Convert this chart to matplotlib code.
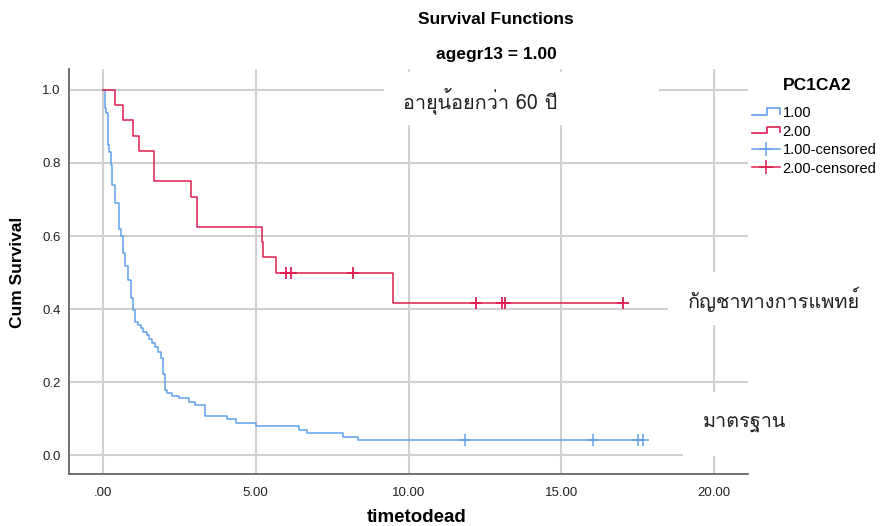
import numpy as np
import matplotlib
matplotlib.use('Agg')
import matplotlib.pyplot as plt
from matplotlib.lines import Line2D
from matplotlib.patches import Rectangle
from matplotlib.legend_handler import HandlerBase
from matplotlib import font_manager
from matplotlib.ft2font import FT2Font

# Kaplan-Meier steps
blue_time = [0.00, 0.06, 0.10, 0.15, 0.20, 0.25, 0.31, 0.38, 0.54, 0.59, 0.65, 0.71,
             0.82, 0.91, 0.97, 1.05, 1.15, 1.23, 1.32, 1.43, 1.52, 1.59, 1.70, 1.81,
             1.89, 1.95, 2.03, 2.10, 2.25, 2.50, 2.82, 3.01, 3.34, 4.06, 4.35, 5.01,
             6.43, 6.67, 7.85, 8.36]
blue_surv = [1.000, 0.951, 0.937, 0.850, 0.830, 0.795, 0.740, 0.690, 0.620, 0.600, 0.553, 0.518,
             0.479, 0.430, 0.397, 0.364, 0.356, 0.348, 0.337, 0.329, 0.318, 0.307, 0.296, 0.282,
             0.266, 0.222, 0.178, 0.170, 0.162, 0.156, 0.145, 0.137, 0.107, 0.099, 0.088, 0.079,
             0.068, 0.060, 0.049, 0.041]
blue_cens = [11.85, 16.03, 17.52, 17.69]

red_time = [0.00, 0.39, 0.65, 0.98, 1.18, 1.67, 2.88, 3.08, 5.20, 5.25, 5.66, 9.49]
red_surv = [1.000, 0.958, 0.917, 0.875, 0.833, 0.750, 0.708, 0.625, 0.583, 0.542, 0.500, 0.417]
red_cens = [5.99, 6.15, 8.18, 12.20, 13.06, 13.16, 17.02]

group_labels = ['1.00', '2.00', '1.00-censored', '2.00-censored']
x_ticks = [0, 5, 10, 15, 20]
x_ticklabels = ['.00', '5.00', '10.00', '15.00', '20.00']
y_ticks = [0.0, 0.2, 0.4, 0.6, 0.8, 1.0]
y_ticklabels = ['0.0', '0.2', '0.4', '0.6', '0.8', '1.0']

BLUE = '#62a0ec'
RED = '#dc1e50'

plt.rcParams['font.family'] = ['Liberation Sans', 'DejaVu Sans']


def thai_font():
    for f in font_manager.fontManager.ttflist:
        try:
            if 0x0E2D in FT2Font(f.fname).get_charmap():
                return f.name
        except Exception:
            pass
    return 'DejaVu Sans'


TH = thai_font()


def surv_at(times, surv, t):
    i = np.searchsorted(times, t, side='right') - 1
    return np.asarray(surv)[i]


class StepIcon(HandlerBase):
    def create_artists(self, legend, orig_handle, xdescent, ydescent, width, height, fontsize, trans):
        x0, y0 = -xdescent, -ydescent
        xs = [x0, x0 + 0.55 * width, x0 + 0.55 * width, x0 + width, x0 + width]
        ys = [y0 + 0.2 * height, y0 + 0.2 * height, y0 + 0.85 * height, y0 + 0.85 * height, y0 + 0.3 * height]
        ln = Line2D(xs, ys, color=orig_handle.get_color(), lw=1.2)
        ln.set_transform(trans)
        return [ln]


W, H = 884, 526
fig = plt.figure(figsize=(W / 100, H / 100), dpi=100)
ax = fig.add_axes([69 / W, 1 - 474 / H, (748 - 69) / W, (474 - 69) / H])
ax.set_xlim(-1.11, 21.11)
ax.set_ylim(-0.052, 1.0575)

bt = blue_time + [blue_cens[-1]]
bs = blue_surv + [blue_surv[-1]]
rt = red_time + [red_cens[-1]]
rs = red_surv + [red_surv[-1]]
l1, = ax.step(bt, bs, where='post', color=BLUE, lw=1.1, zorder=3)
l2, = ax.step(rt, rs, where='post', color=RED, lw=1.1, zorder=3)
ax.plot(blue_cens, [surv_at(blue_time, blue_surv, t) for t in blue_cens], '+',
        color=BLUE, ms=8, mew=1.1, zorder=4)
ax.plot(red_cens, [surv_at(red_time, red_surv, t) for t in red_cens], '+',
        color=RED, ms=8, mew=1.3, zorder=4)

ax.set_xticks(x_ticks)
ax.set_xticklabels(x_ticklabels)
ax.set_yticks(y_ticks)
ax.set_yticklabels(y_ticklabels)
ax.tick_params(axis='both', length=0, labelsize=9.5, colors='#222222')
ax.tick_params(axis='x', pad=9)
ax.tick_params(axis='y', pad=6)
ax.grid(True, color='#d0d0d0', lw=1.5)
ax.set_axisbelow(True)
for s in ['top', 'right']:
    ax.spines[s].set_visible(False)
for s in ['left', 'bottom']:
    ax.spines[s].set_color('#666666')
    ax.spines[s].set_linewidth(1.3)

fig.text(496 / W, 1 - 20 / H, 'Survival Functions', ha='center', va='center',
         fontsize=12.5, weight='bold')
fig.text(496 / W, 1 - 55 / H, 'agegr13 = 1.00', ha='center', va='center',
         fontsize=12.5, weight='bold')
fig.text(18 / W, 1 - 272 / H, 'Cum Survival', rotation=90, ha='center', va='center',
         fontsize=12.5, weight='bold')
fig.text(417 / W, 1 - 518 / H, 'timetodead', ha='center', va='center',
         fontsize=13.5, weight='bold')

# legend: title placed on its own, entries below
fig.text(817 / W, 1 - 86 / H, 'PC1CA2', ha='center', va='center',
         fontsize=12.5, weight='bold')
handles = [l1, l2,
           Line2D([], [], color=BLUE, lw=1.1, marker='+', ms=10, mew=1.1),
           Line2D([], [], color=RED, lw=1.1, marker='+', ms=10, mew=1.1)]
leg = fig.legend(handles, group_labels, loc='upper left',
                 bbox_to_anchor=(752 / W, 1 - 106 / H), frameon=False,
                 handler_map={l1: StepIcon(), l2: StepIcon()},
                 fontsize=10.5, handlelength=1.9, handletextpad=0.2,
                 labelspacing=0.31, borderpad=0, borderaxespad=0, numpoints=1)

# white boxes with Thai notes pasted over the chart
notes = [('อายุน้อยกว่า 60 ปี', 384, 72, 659, 125, 403, 101),
         ('กัญชาทางการแพทย์', 668, 272, 884, 325, 688, 299),
         ('มาตรฐาน', 683, 392, 800, 456, 703, 423)]
for txt, x0, y0, x1, y1, tx, ty in notes:
    fig.add_artist(Rectangle((x0 / W, 1 - y1 / H), (x1 - x0) / W, (y1 - y0) / H,
                             transform=fig.transFigure, facecolor='white',
                             edgecolor='none', zorder=5))
    fig.text(tx / W, 1 - ty / H, txt, ha='left', va='center', fontsize=14.3,
             family=[TH, 'DejaVu Sans'], color='#222222', zorder=6)

fig.savefig('out.png', dpi=100)
